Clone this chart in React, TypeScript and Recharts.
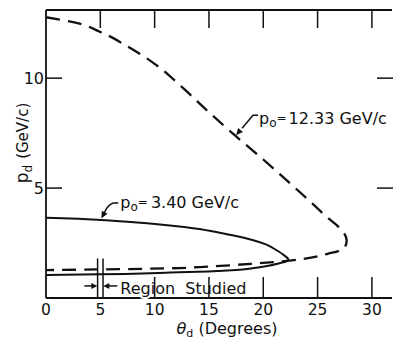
import React from 'react';
import { LineChart, Line, XAxis, YAxis, ReferenceLine, ReferenceDot } from 'recharts';

// ---- data ----
const xTicks = [0, 5, 10, 15, 20, 25, 30];
const bottomMarkTicks = [10, 15, 20, 25, 30];
const topTicks = [5, 10, 15, 20, 25, 30];
const yTicks = [5, 10];

// p0 = 12.33 GeV/c (dashed): upper branch out to max angle, then lower branch back
const dashedTheta = [0, 2.5, 5, 7.5, 10, 12.5, 15, 17.5, 20, 22.5, 24.5, 26, 26.9, 27.4, 27.68, 27.55, 27.1, 26, 24, 22.4, 20.9, 18.8, 14.5, 11.4, 5, 0];
const dashedP = [12.77, 12.55, 12.1, 11.45, 10.65, 9.6, 8.45, 7.35, 6.3, 5.2, 4.3, 3.62, 3.25, 2.98, 2.62, 2.35, 2.17, 2.02, 1.8, 1.7, 1.63, 1.55, 1.42, 1.35, 1.3, 1.27];

// p0 = 3.40 GeV/c (solid)
const solidTheta = [0, 3, 5, 7.5, 9.3, 11.4, 13.9, 16, 17.5, 19, 20.3, 21.2, 21.9, 22.3, 22.1, 21.5, 20.5, 19, 17.5, 14, 11, 5, 0];
const solidP = [3.65, 3.6, 3.55, 3.47, 3.4, 3.3, 3.15, 2.97, 2.82, 2.64, 2.43, 2.18, 1.95, 1.75, 1.66, 1.58, 1.47, 1.35, 1.27, 1.19, 1.15, 1.08, 1.05];

const regionStudied = [4.75, 5.25];
const regionTop = 1.8;
const regionLabelPoint = { x: 5, y: 0.55 };
const regionLabel = 'Region  Studied';

const lowLabelPoint = { x: 5, y: 3.55 };
const lowLabel = '3.40 GeV/c';
const highLabelPoint = { x: 17.4, y: 7.4 };
const highLabel = '12.33 GeV/c';

const xDomain = [0, 31.85];
const yDomain = [0, 13.1];

const dashedData = dashedTheta.map((t, i) => ({ theta: t, p: dashedP[i] }));
const solidData = solidTheta.map((t, i) => ({ theta: t, p: solidP[i] }));

// ---- styling ----
const FONT = 'DejaVu Sans';
const INK = '#111';

function arrowHead(tx: number, ty: number, fx: number, fy: number, len = 7, w = 3.2) {
  const dx = tx - fx;
  const dy = ty - fy;
  const l = Math.sqrt(dx * dx + dy * dy) || 1;
  const ux = dx / l;
  const uy = dy / l;
  const bx = tx - ux * len;
  const by = ty - uy * len;
  const nx = -uy;
  const ny = ux;
  return `${tx},${ty} ${bx + nx * w},${by + ny * w} ${bx - nx * w},${by - ny * w}`;
}

const BottomTick = (props: any) => {
  const { x, y, payload } = props;
  const v = payload.value;
  return (
    <g>
      {bottomMarkTicks.includes(v) && (
        <line x1={x} y1={y} x2={x} y2={y - 21} stroke={INK} strokeWidth={1.5} />
      )}
      <text x={x} y={y + 17} textAnchor="middle" fontSize={15.5} fontFamily={FONT} fill={INK}>
        {v}
      </text>
    </g>
  );
};

const TopTick = (props: any) => {
  const { x, y } = props;
  return <line x1={x} y1={y} x2={x} y2={y + 18} stroke={INK} strokeWidth={1.5} />;
};

const LeftTick = (props: any) => {
  const { x, y, payload } = props;
  return (
    <g>
      <line x1={x} y1={y} x2={x + 16} y2={y} stroke={INK} strokeWidth={1.5} />
      <text x={x - 2} y={y + 6} textAnchor="end" fontSize={16} fontFamily={FONT} fill={INK}>
        {payload.value}
      </text>
    </g>
  );
};

const RightTick = (props: any) => {
  const { x, y } = props;
  return <line x1={x - 15} y1={y} x2={x + 1} y2={y} stroke={INK} strokeWidth={1.5} />;
};

const XTitle = (props: any) => {
  const vb = props.viewBox || {};
  const cx = vb.x + vb.width / 2 + 8;
  const y = vb.y + 36;
  return (
    <text x={cx} y={y} textAnchor="middle" fontSize={16} fontFamily={FONT} fill={INK}>
      <tspan fontStyle="italic">θ</tspan>
      <tspan fontSize={11} dy={3}>d</tspan>
      <tspan dy={-3}> (Degrees)</tspan>
    </text>
  );
};

const YTitle = (props: any) => {
  const vb = props.viewBox || {};
  const x = vb.x + 28;
  const y = vb.y + vb.height / 2 - 11;
  return (
    <text
      x={x}
      y={y}
      textAnchor="middle"
      fontSize={17}
      fontFamily={FONT}
      fill={INK}
      transform={`rotate(-90, ${x}, ${y})`}
    >
      <tspan>p</tspan>
      <tspan fontSize={12} dy={4}>d</tspan>
      <tspan dy={-4} dx={6} fontSize={15}>(GeV/c)</tspan>
    </text>
  );
};

const LowAnnotation = (props: any) => {
  const { cx, cy } = props;
  const fx = cx + 4;
  const fy = cy - 7;
  return (
    <g>
      <path
        d={`M${cx + 18},${cy - 17} L${cx + 13},${cy - 17} Q${cx + 7},${cy - 15} ${fx},${fy}`}
        fill="none"
        stroke={INK}
        strokeWidth={1.5}
      />
      <polygon points={arrowHead(cx + 1, cy - 1.5, fx, fy)} fill={INK} />
      <text x={cx + 20} y={cy - 12} fontSize={16} fontFamily={FONT} fill={INK}>
        <tspan>p</tspan>
        <tspan fontSize={12} dy={3}>o</tspan>
        <tspan fontSize={12} dy={-5}>=</tspan>
        <tspan dy={2} dx={3}>{lowLabel}</tspan>
      </text>
    </g>
  );
};

const HighAnnotation = (props: any) => {
  const { cx, cy } = props;
  const fx = cx + 7;
  const fy = cy - 7;
  return (
    <g>
      <path
        d={`M${cx + 23},${cy - 20} L${cx + 18},${cy - 20} L${fx},${fy}`}
        fill="none"
        stroke={INK}
        strokeWidth={1.5}
      />
      <polygon points={arrowHead(cx + 1, cy, fx, fy)} fill={INK} />
      <text x={cx + 24} y={cy - 11} fontSize={16} fontFamily={FONT} fill={INK}>
        <tspan>p</tspan>
        <tspan fontSize={12} dy={3}>o</tspan>
        <tspan fontSize={12} dy={-5}>=</tspan>
        <tspan dy={2} dx={2}>{highLabel}</tspan>
      </text>
    </g>
  );
};

const RegionAnnotation = (props: any) => {
  const { cx, cy } = props;
  return (
    <g>
      <line x1={cx - 16} y1={cy} x2={cx - 8} y2={cy} stroke={INK} strokeWidth={1.5} />
      <polygon points={arrowHead(cx - 3, cy, cx - 16, cy, 6, 3)} fill={INK} />
      <line x1={cx + 17} y1={cy} x2={cx + 8} y2={cy} stroke={INK} strokeWidth={1.5} />
      <polygon points={arrowHead(cx + 3, cy, cx + 17, cy, 6, 3)} fill={INK} />
      <text
        x={cx + 20}
        y={cy + 8}
        fontSize={16}
        fontFamily={FONT}
        fill={INK}
        stroke="#fff"
        strokeWidth={4}
        paintOrder="stroke"
        style={{ whiteSpace: 'pre' }}
      >
        {regionLabel}
      </text>
    </g>
  );
};

export default function App() {
  return (
    <div style={{ position: 'absolute', left: 0, top: 0, width: 393, height: 341, background: '#fff' }}>
      <LineChart width={393} height={341} margin={{ top: 9, right: 0, bottom: 0, left: 0 }}>
        <XAxis
          xAxisId="b"
          type="number"
          dataKey="theta"
          domain={xDomain}
          ticks={xTicks}
          height={43}
          allowDataOverflow
          axisLine={{ stroke: INK, strokeWidth: 1.8 }}
          tickLine={false}
          tickSize={0}
          tickMargin={0}
          tick={<BottomTick />}
          interval={0}
          label={<XTitle />}
        />
        <XAxis
          xAxisId="t"
          orientation="top"
          type="number"
          dataKey="theta"
          domain={xDomain}
          ticks={topTicks}
          height={1}
          allowDataOverflow
          axisLine={{ stroke: INK, strokeWidth: 1.8 }}
          tickLine={false}
          tickSize={0}
          tickMargin={0}
          tick={<TopTick />}
          interval={0}
        />
        <YAxis
          yAxisId="l"
          type="number"
          domain={yDomain}
          ticks={yTicks}
          width={46}
          allowDataOverflow
          axisLine={{ stroke: INK, strokeWidth: 1.8 }}
          tickLine={false}
          tickSize={0}
          tickMargin={0}
          tick={<LeftTick />}
          interval={0}
          label={<YTitle />}
        />
        <YAxis
          yAxisId="r"
          orientation="right"
          type="number"
          domain={yDomain}
          ticks={yTicks}
          width={1}
          allowDataOverflow
          axisLine={false}
          tickLine={false}
          tickSize={0}
          tickMargin={0}
          tick={<RightTick />}
          interval={0}
        />
        <Line
          xAxisId="b"
          yAxisId="l"
          data={dashedData}
          dataKey="p"
          type="monotoneY"
          stroke={INK}
          strokeWidth={2.3}
          strokeDasharray="14 8"
          dot={false}
          activeDot={false}
          isAnimationActive={false}
        />
        <Line
          xAxisId="b"
          yAxisId="l"
          data={solidData}
          dataKey="p"
          type="monotoneY"
          stroke={INK}
          strokeWidth={2}
          dot={false}
          activeDot={false}
          isAnimationActive={false}
        />
        {regionStudied.map((xv) => (
          <ReferenceLine
            key={xv}
            xAxisId="b"
            yAxisId="l"
            segment={[{ x: xv, y: 0 }, { x: xv, y: regionTop }]}
            stroke={INK}
            strokeWidth={1.5}
          />
        ))}
        <ReferenceDot
          xAxisId="b"
          yAxisId="l"
          x={regionLabelPoint.x}
          y={regionLabelPoint.y}
          shape={<RegionAnnotation />}
        />
        <ReferenceDot
          xAxisId="b"
          yAxisId="l"
          x={lowLabelPoint.x}
          y={lowLabelPoint.y}
          shape={<LowAnnotation />}
        />
        <ReferenceDot
          xAxisId="b"
          yAxisId="l"
          x={highLabelPoint.x}
          y={highLabelPoint.y}
          shape={<HighAnnotation />}
        />
      </LineChart>
    </div>
  );
}
